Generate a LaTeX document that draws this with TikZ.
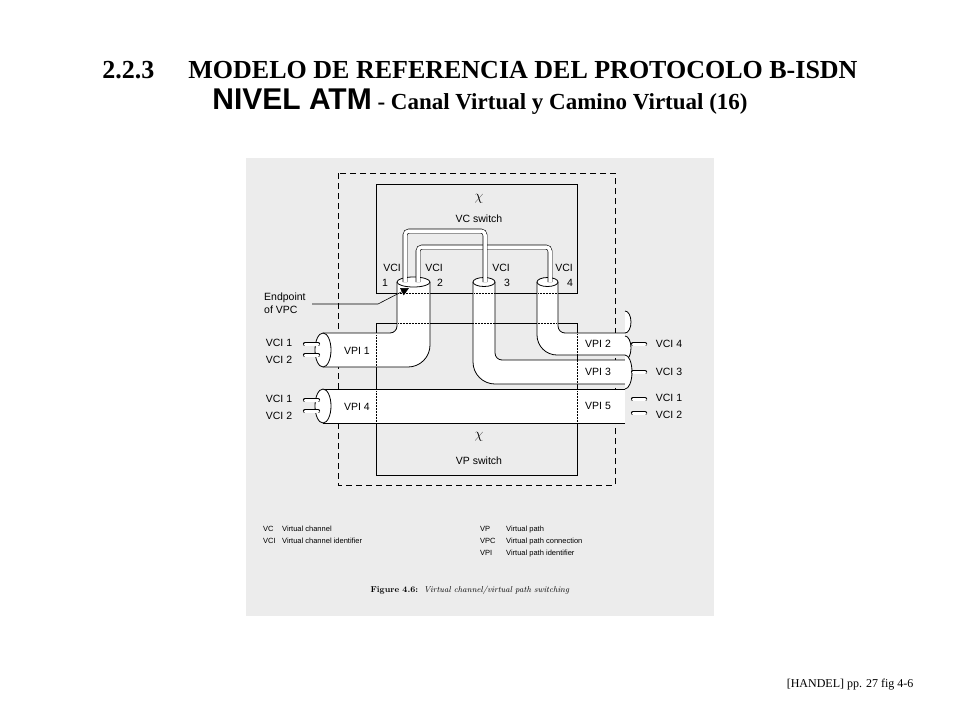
\documentclass[tikz,border=0pt]{standalone}
\usepackage{fontspec}
\setsansfont{Liberation Sans}
\newfontfamily\titlefont{Liberation Serif}
\usetikzlibrary{arrows.meta}

\begin{document}
\begin{tikzpicture}[x=1pt,y=-1pt]
    \tikzstyle{pipe}=[fill=white, draw, line width=.8pt]
    \tikzstyle{edge}=[draw, line width=.8pt]
    \tikzstyle{tube}=[draw, line width=.6pt, double=white, double distance=3.5pt, rounded corners=4pt]
    \tikzstyle{stub}=[draw, line width=.6pt, double=white, double distance=3pt, line cap=round]
    \tikzstyle{lbl}=[font=\sffamily\fontsize{10.5}{12}\selectfont, inner sep=0pt]
    \tikzstyle{leg}=[font=\sffamily\fontsize{7.5}{9}\selectfont, inner sep=0pt, anchor=base west]
    \tikzstyle{dots}=[densely dotted, line width=.5pt]
    \useasboundingbox (0,0) rectangle (960,720);

    % Title
    \node [font=\titlefont\bfseries\fontsize{26}{30}\selectfont] (title1) at (480,70)
        {2.2.3\hspace{34pt}MODELO DE REFERENCIA DEL PROTOCOLO B-ISDN};
    \node [font=\titlefont\bfseries\fontsize{23}{28}\selectfont] (title2) at (480,102)
        {{\sffamily\fontsize{30}{34}\selectfont NIVEL ATM} - Canal Virtual y Camino Virtual (16)};

    % Scanned figure background
    \fill [fill={rgb,255:red,236;green,236;blue,236}] (246,158) rectangle (714,616);
    \draw [line width=.7pt, dash pattern=on 6pt off 4pt] (338,173) rectangle (615,485);

    % Switches
    \draw [line width=.8pt] (376,184) rectangle (577,293);
    \draw [line width=.8pt] (376,323) rectangle (577,475);
    \node [lbl, font=\Large] (vcx) at (479,199) {$\chi$};
    \node [lbl] (vcs) at (479,219) {VC switch};
    \node [lbl, font=\Large] (vpx) at (479,437) {$\chi$};
    \node [lbl] (vps) at (479,461) {VP switch};

    % Paths (white body, then outline)
    \fill [white] (323,389) rectangle (625,423);
    \path [edge] (323,389) -- (625,389) (625,423) -- (323,423);
    \fill [white] (323,333) [rounded corners=7pt]-- (397,333) [sharp corners]-- (397,282)
        -- (430,282) [rounded corners=22pt]-- (430,367) [sharp corners]-- (323,367) -- cycle;
    \path [edge] (323,333) [rounded corners=7pt]-- (397,333) [sharp corners]-- (397,282)
        (430,282) [rounded corners=22pt]-- (430,367) [sharp corners]-- (323,367);
    \fill [white] (495,282) [rounded corners=7pt]-- (495,360) [sharp corners]-- (625,360)
        -- (625,384) [rounded corners=22pt]-- (473,384) [sharp corners]-- (473,282) -- cycle;
    \path [edge] (495,282) [rounded corners=7pt]-- (495,360) [sharp corners]-- (625,360)
        (625,384) [rounded corners=22pt]-- (473,384) [sharp corners]-- (473,282);
    \fill [white] (558,282) [rounded corners=7pt]-- (558,333) [sharp corners]-- (625,333)
        -- (625,355) [rounded corners=20pt]-- (537,355) [sharp corners]-- (537,282) -- cycle;
    \path [edge] (558,282) [rounded corners=7pt]-- (558,333) [sharp corners]-- (625,333)
        (625,355) [rounded corners=20pt]-- (537,355) [sharp corners]-- (537,282);

    % Path ends
    \draw [pipe] (323,350) ellipse [x radius=8, y radius=17];
    \draw [pipe] (323,406) ellipse [x radius=8, y radius=17];
    \draw [pipe] (625,333) arc [start angle=90, end angle=-90, x radius=6, y radius=11];
    \draw [pipe] (625,360) arc [start angle=90, end angle=-90, x radius=6, y radius=12];
    \draw [pipe] (625,389) arc [start angle=90, end angle=-90, x radius=7, y radius=17];
    \draw [pipe] (413.5,282) ellipse [x radius=16.5, y radius=5];
    \draw [pipe] (484,282) ellipse [x radius=11, y radius=4.5];
    \draw [pipe] (547.5,282) ellipse [x radius=10.5, y radius=4.5];

    % Channels inside the VC switch
    \coordinate (c1) at (405,282);
    \coordinate (c2) at (418,282);
    \coordinate (c3) at (485,282);
    \coordinate (c4) at (550,282);
    \draw [tube] (c2) -- (418,247) -- (550,247) -- (c4);
    \draw [tube] (c1) -- (405,231) -- (485,231) -- (c3);

    % Channel stubs
    \foreach \y in {344,355,400,411} \draw [stub] (305,\y) -- (318,\y);
    \foreach \y in {344,372,399,413} \draw [stub] (633,\y) -- (645,\y);

    % Hidden edges
    \draw [dots] (376,335) -- (376,366) (376,391) -- (376,422);
    \draw [dots] (577,334) -- (577,383) (577,391) -- (577,422);
    \draw [dots] (398,293) -- (429,293) (474,293) -- (494,293) (538,293) -- (557,293);
    \draw [dots] (398,323) -- (557,323);

    % Labels
    \node [lbl] (l11) at (279,343) {VCI 1};
    \node [lbl] (l12) at (279,360) {VCI 2};
    \node [lbl] (l41) at (279,399) {VCI 1};
    \node [lbl] (l42) at (279,416) {VCI 2};
    \node [lbl] (vpi1) at (357,351) {VPI 1};
    \node [lbl] (vpi4) at (357,407) {VPI 4};
    \node [lbl] (vpi2) at (598,344) {VPI 2};
    \node [lbl] (vpi3) at (598,372) {VPI 3};
    \node [lbl] (vpi5) at (598,406) {VPI 5};
    \node [lbl] (r4) at (669,344) {VCI 4};
    \node [lbl] (r3) at (669,372) {VCI 3};
    \node [lbl] (r1) at (669,398) {VCI 1};
    \node [lbl] (r2) at (669,415) {VCI 2};
    \node [lbl] (v1) at (392,268) {VCI};
    \node [lbl] (n1) at (385,283) {1};
    \node [lbl] (v2) at (434,268) {VCI};
    \node [lbl] (n2) at (440,283) {2};
    \node [lbl] (v3) at (501,268) {VCI};
    \node [lbl] (n3) at (507,283) {3};
    \node [lbl] (v4) at (564,268) {VCI};
    \node [lbl] (n4) at (570,283) {4};
    \node [lbl, align=left, anchor=west] (endp) at (264,303) {Endpoint\\[1pt]of VPC};
    \coordinate (bend) at (378,304);
    \draw [line width=.6pt, -{Triangle[length=8pt,width=8pt]}] (312,304) -- (bend) -- (409,288);

    % Legend
    \node [leg] (lvc) at (263,531) {VC};
    \node [leg] (lvct) at (282,531) {Virtual channel};
    \node [leg] (lvci) at (263,543) {VCI};
    \node [leg] (lvcit) at (282,543) {Virtual channel identifier};
    \node [leg] (lvp) at (480,531) {VP};
    \node [leg] (lvpt) at (506,531) {Virtual path};
    \node [leg] (lvpc) at (480,543) {VPC};
    \node [leg] (lvpct) at (506,543) {Virtual path connection};
    \node [leg] (lvpi) at (480,555) {VPI};
    \node [leg] (lvpit) at (506,555) {Virtual path identifier};
    \node [font=\fontsize{8.5}{10}\selectfont] (cap) at (470,590)
        {\textbf{Figure 4.6:}\ \ \textit{Virtual channel/virtual path switching}};

    % Source
    \node [anchor=east, font=\titlefont\fontsize{12}{14}\selectfont] (src) at (917,685)
        {[HANDEL] pp. 27 fig 4-6};
\end{tikzpicture}
\end{document}
